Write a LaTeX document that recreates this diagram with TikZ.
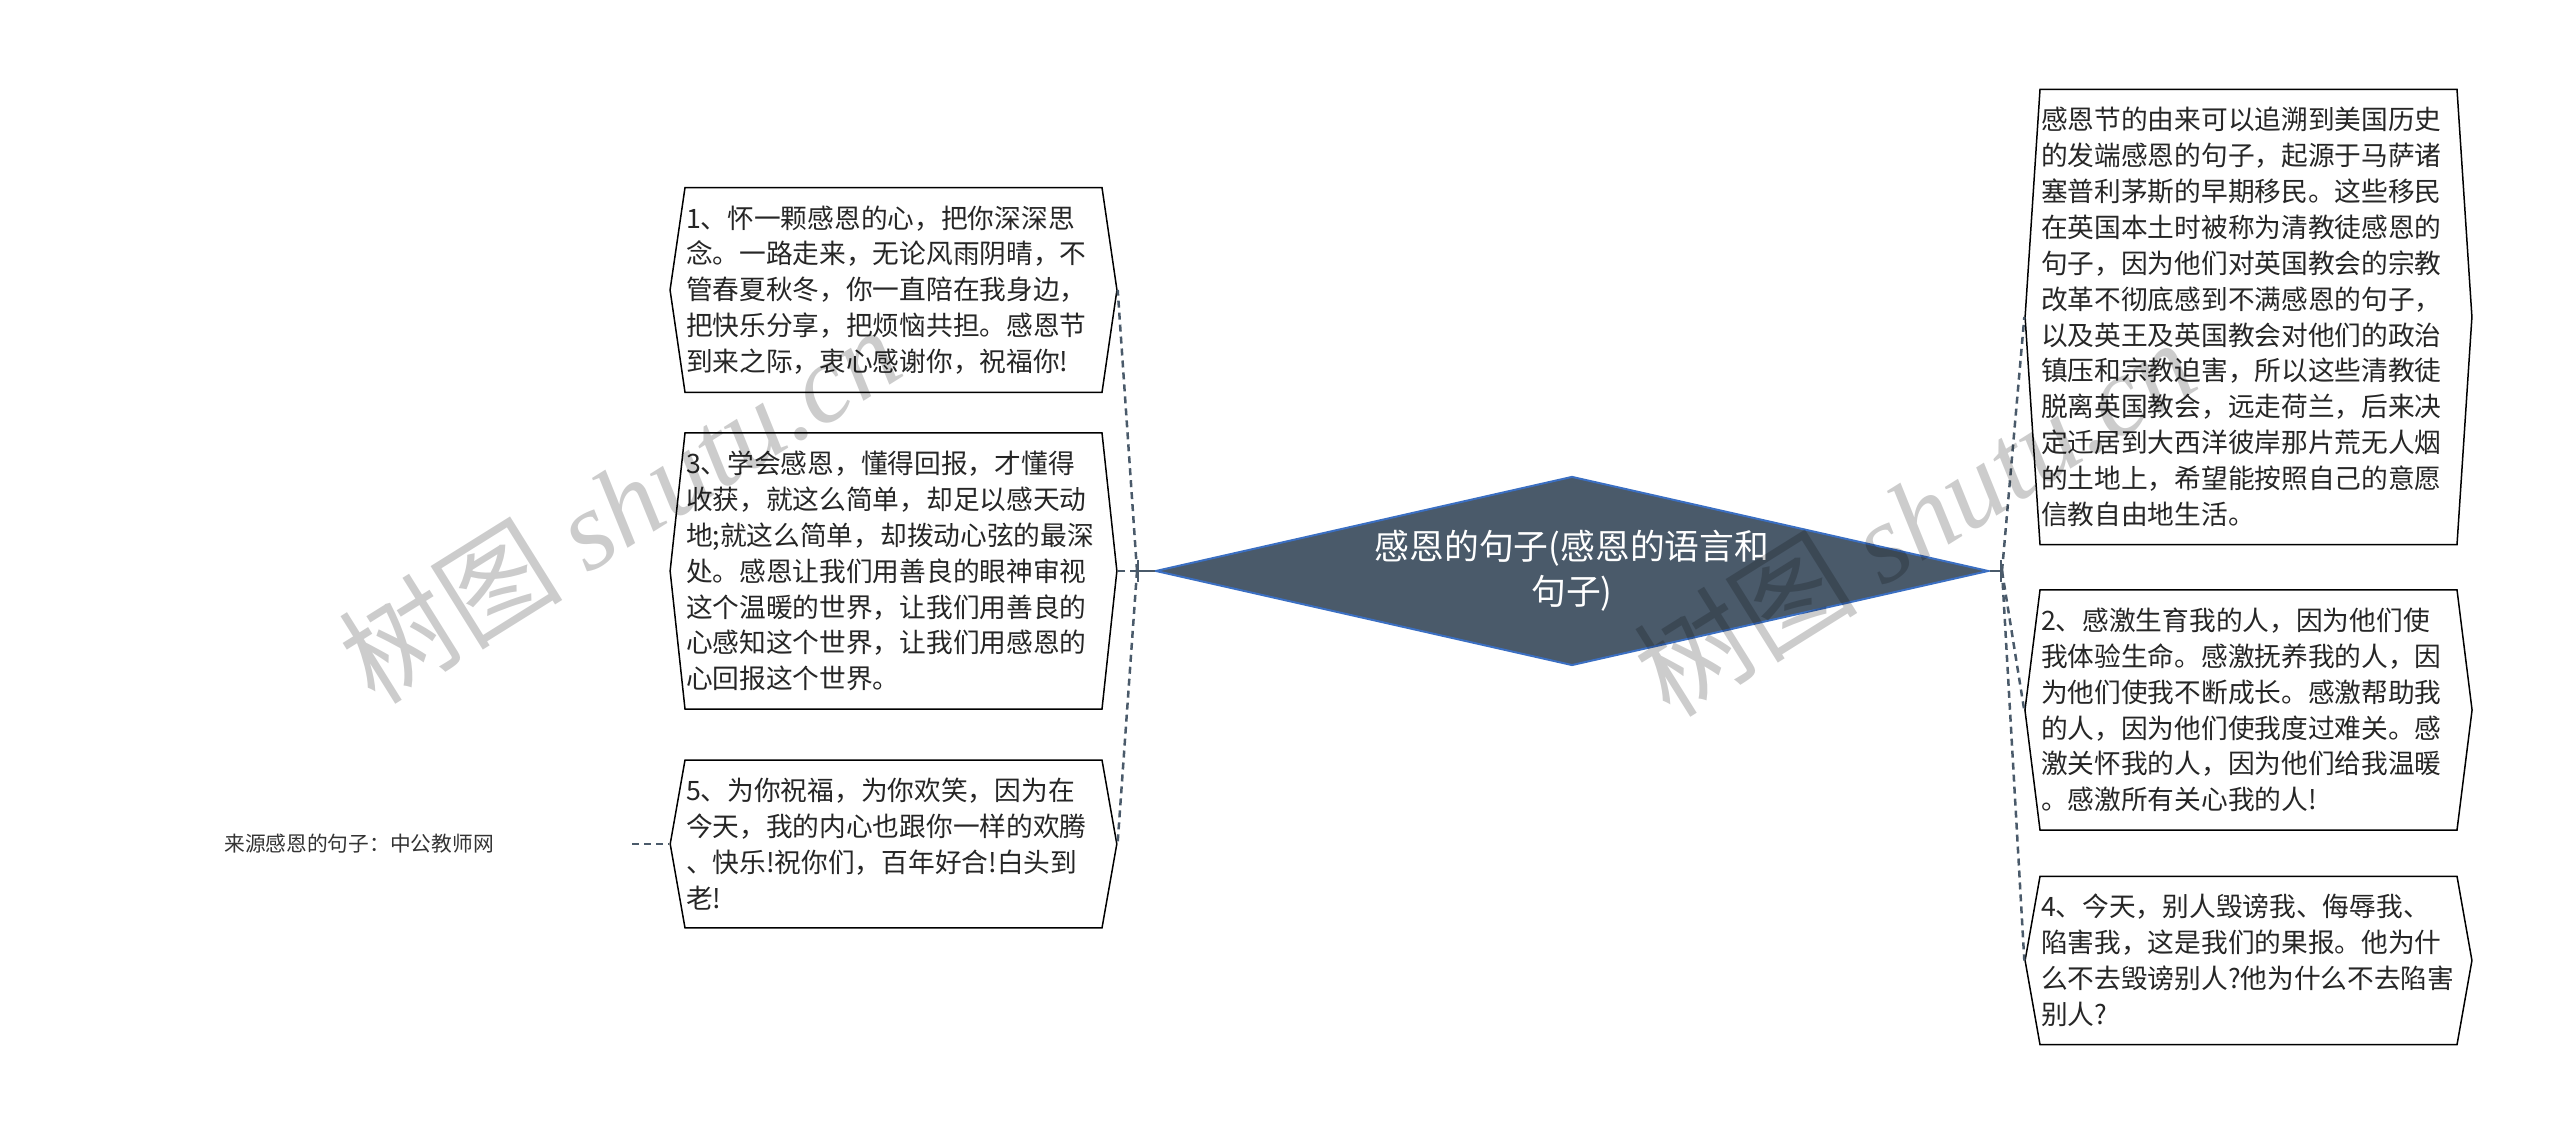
\documentclass[tikz,border=0pt]{standalone}
\usepackage{fontspec}
\setmainfont{Noto Sans CJK SC}
\newfontfamily\wmfont{Liberation Serif}
\usepackage{tikz}
\usetikzlibrary{shapes.geometric, shapes.symbols, arrows, positioning}
\definecolor{rootfill}{HTML}{4A5A6A}
\definecolor{rootline}{HTML}{3B6FC2}
\definecolor{linkgray}{HTML}{4A5A6A}
\tikzstyle{topic} = [diamond, draw=rootline, line width=0.2mm, fill=rootfill, text=white, inner sep=0pt, aspect=4.4, minimum width=83.3mm, minimum height=18.9mm, align=center, font=\fontsize{9.9pt}{12.8pt}\selectfont]
\tikzstyle{leaf} = [signal, signal to=east and west, draw=black, line width=0.15mm, fill=white, text=black!85, text width=41.5mm, inner xsep=0.1mm, inner ysep=1.8mm, align=left, font=\fontsize{7.6pt}{10.2pt}\selectfont]
\tikzstyle{stem} = [line width=0.2mm, draw=linkgray, -|]
\tikzstyle{link} = [line width=0.25mm, draw=linkgray, dash pattern=on 0.7mm off 0.5mm]
\tikzstyle{source} = [inner sep=0pt, text width=40.7mm, align=left, text=black!80, font=\fontsize{5.9pt}{7pt}\selectfont]
\tikzstyle{watermark} = [text=black, text opacity=0.2, rotate=32, anchor=base west, inner sep=0pt, font=\fontsize{32pt}{34pt}\selectfont]

\begin{document}
\begin{tikzpicture}
            \useasboundingbox (0,0) rectangle (256mm, 113.5mm);

            \node at (157.2mm, 56.4mm) (root) [topic] {感恩的句子(感恩的语言和\\句子)};
            \coordinate (jl) at (113.7mm, 56.4mm);
            \coordinate (jr) at (200.2mm, 56.4mm);

            % left side
            \node at (89.35mm, 84.5mm) (s1) [leaf, signal pointer angle=163.4] {1、怀一颗感恩的心，把你深深思\\念。一路走来，无论风雨阴晴，不\\管春夏秋冬，你一直陪在我身边，\\把快乐分享，把烦恼共担。感恩节\\到来之际，衷心感谢你，祝福你!};
            \node at (89.35mm, 56.4mm) (s3) [leaf, signal pointer angle=167.7] {3、学会感恩，懂得回报，才懂得\\收获，就这么简单，却足以感天动\\地;就这么简单，却拨动心弦的最深\\处。感恩让我们用善良的眼神审视\\这个温暖的世界，让我们用善良的\\心感知这个世界，让我们用感恩的\\心回报这个世界。};
            \node at (89.35mm, 29.1mm) (s5) [leaf, signal pointer angle=160] {5、为你祝福，为你欢笑，因为在\\今天，我的内心也跟你一样的欢腾\\、快乐!祝你们，百年好合!白头到\\老!};
            \node at (63.2mm, 29.1mm) (src) [source, anchor=east] {来源感恩的句子：中公教师网};

            % right side
            \node at (224.85mm, 81.8mm) (hist) [leaf, signal pointer angle=172.5] {感恩节的由来可以追溯到美国历史\\的发端感恩的句子，起源于马萨诸\\塞普利茅斯的早期移民。这些移民\\在英国本土时被称为清教徒感恩的\\句子，因为他们对英国教会的宗教\\改革不彻底感到不满感恩的句子，\\以及英王及英国教会对他们的政治\\镇压和宗教迫害，所以这些清教徒\\脱离英国教会，远走荷兰，后来决\\定迁居到大西洋彼岸那片荒无人烟\\的土地上，希望能按照自己的意愿\\信教自由地生活。};
            \node at (224.85mm, 42.5mm) (s2) [leaf, signal pointer angle=165.7] {2、感激生育我的人，因为他们使\\我体验生命。感激抚养我的人，因\\为他们使我不断成长。感激帮助我\\的人，因为他们使我度过难关。感\\激关怀我的人，因为他们给我温暖\\。感激所有关心我的人!};
            \node at (224.85mm, 17.45mm) (s4) [leaf, signal pointer angle=159.9] {4、今天，别人毁谤我、侮辱我、\\陷害我，这是我们的果报。他为什\\么不去毁谤别人?他为什么不去陷害\\别人?};

            \draw [stem] (root.west) -- (jl);
            \draw [stem] (root.east) -- (jr);
            \foreach \s in {s1, s3, s5}
                \draw [link] (jl) -- (\s.east);
            \foreach \s in {hist, s2, s4}
                \draw [link] (jr) -- (\s.west);
            \draw [link] (src.east) -- (s5.west);

            %\draw (0,0) rectangle (256mm, 113.5mm);
            \node at (37.5mm, 42.8mm) (wmleft) [watermark] {树图 {\wmfont\itshape shutu.cn}};
            \node at (167.0mm, 41.5mm) (wmright) [watermark] {树图 {\wmfont\itshape shutu.cn}};
\end{tikzpicture}
\end{document}
